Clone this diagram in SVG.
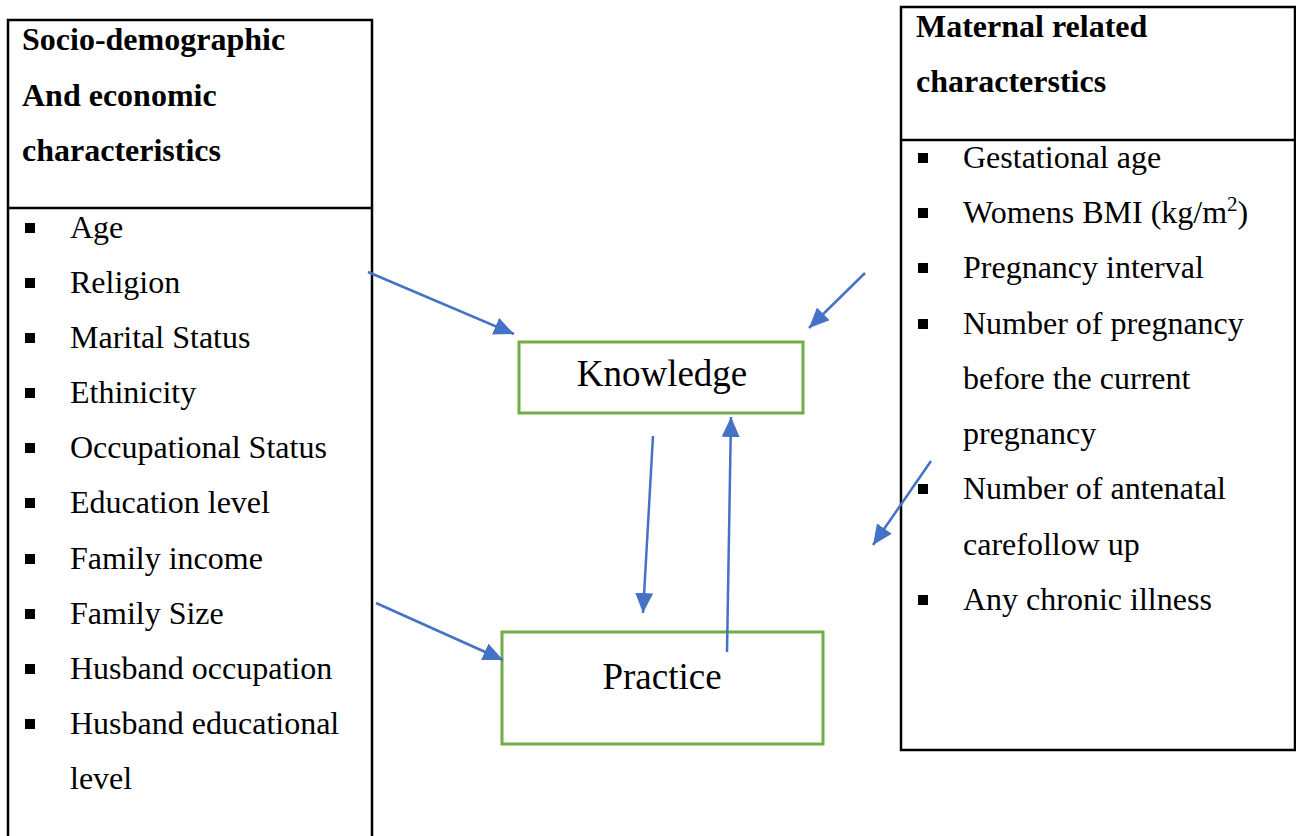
<svg xmlns="http://www.w3.org/2000/svg" width="1296" height="836" viewBox="0 0 1296 836">
<defs>
<marker id="ah" markerUnits="userSpaceOnUse" markerWidth="22" markerHeight="18" refX="20" refY="9" orient="auto">
<path d="M0,0 L20,9 L0,18 Z" fill="#4472C4"/>
</marker>
<style>
.box{fill:#fff;stroke:#000;stroke-width:2.5}
.node{fill:#fff;stroke:#70AD47;stroke-width:3}
.h{font-family:"Liberation Serif","Times New Roman",serif;font-weight:bold;font-size:32px;fill:#000}
.t{font-family:"Liberation Serif","Times New Roman",serif;font-size:32px;fill:#000}
.n{font-family:"Liberation Serif","Times New Roman",serif;font-size:37px;fill:#000;text-anchor:middle}
.b{fill:#000}
.c{stroke:#4472C4;stroke-width:2.5;fill:none;marker-end:url(#ah)}
</style>
</defs>
<rect width="1296" height="836" fill="#fff"/>
<g id="socio">
<rect class="box" x="8" y="20" width="364" height="840"/>
<line x1="8" y1="208" x2="372" y2="208" stroke="#000" stroke-width="2.5"/>
<text class="h" x="22" y="50">Socio-demographic</text>
<text class="h" x="22" y="106">And economic</text>
<text class="h" x="22" y="161">characteristics</text>
<g class="b">
<rect x="25" y="223" width="10" height="10"/>
<rect x="25" y="278" width="10" height="10"/>
<rect x="25" y="333" width="10" height="10"/>
<rect x="25" y="388" width="10" height="10"/>
<rect x="25" y="443" width="10" height="10"/>
<rect x="25" y="498" width="10" height="10"/>
<rect x="25" y="554" width="10" height="10"/>
<rect x="25" y="609" width="10" height="10"/>
<rect x="25" y="664" width="10" height="10"/>
<rect x="25" y="719" width="10" height="10"/>
</g>
<text class="t" x="70" y="238">Age</text>
<text class="t" x="70" y="293">Religion</text>
<text class="t" x="70" y="348">Marital Status</text>
<text class="t" x="70" y="403">Ethinicity</text>
<text class="t" x="70" y="458">Occupational Status</text>
<text class="t" x="70" y="513">Education level</text>
<text class="t" x="70" y="569">Family income</text>
<text class="t" x="70" y="624">Family Size</text>
<text class="t" x="70" y="679">Husband occupation</text>
<text class="t" x="70" y="734">Husband educational</text>
<text class="t" x="70" y="789">level</text>
</g>
<g id="maternal">
<rect class="box" x="901" y="7" width="394" height="743"/>
<line x1="901" y1="140" x2="1295" y2="140" stroke="#000" stroke-width="2.5"/>
<text class="h" x="916" y="37">Maternal related</text>
<text class="h" x="916" y="92">characterstics</text>
<g class="b">
<rect x="918" y="153" width="10" height="10"/>
<rect x="918" y="208" width="10" height="10"/>
<rect x="918" y="263" width="10" height="10"/>
<rect x="918" y="319" width="10" height="10"/>
<rect x="918" y="484" width="10" height="10"/>
<rect x="918" y="595" width="10" height="10"/>
</g>
<text class="t" x="963" y="168">Gestational age</text>
<text class="t" x="963" y="223">Womens BMI (kg/m<tspan font-size="21" dy="-12">2</tspan><tspan dy="12">)</tspan></text>
<text class="t" x="963" y="278">Pregnancy interval</text>
<text class="t" x="963" y="334">Number of pregnancy</text>
<text class="t" x="963" y="389">before the current</text>
<text class="t" x="963" y="444">pregnancy</text>
<text class="t" x="963" y="499">Number of antenatal</text>
<text class="t" x="963" y="555">carefollow up</text>
<text class="t" x="963" y="610">Any chronic illness</text>
</g>
<g id="knowledge">
<rect class="node" x="519" y="342" width="284" height="71"/>
<text class="n" x="662" y="386">Knowledge</text>
</g>
<g id="practice">
<rect class="node" x="502" y="632" width="321" height="112"/>
<text class="n" x="662" y="689">Practice</text>
</g>
<g id="connectors">
<line class="c" x1="368" y1="272" x2="514" y2="334"/>
<line class="c" x1="865" y1="273" x2="809" y2="328"/>
<line class="c" x1="653" y1="436" x2="643" y2="613"/>
<line class="c" x1="727" y1="652" x2="731" y2="417"/>
<line class="c" x1="376" y1="603" x2="503" y2="660"/>
<line class="c" x1="931" y1="461" x2="873" y2="545"/>
</g>
</svg>
